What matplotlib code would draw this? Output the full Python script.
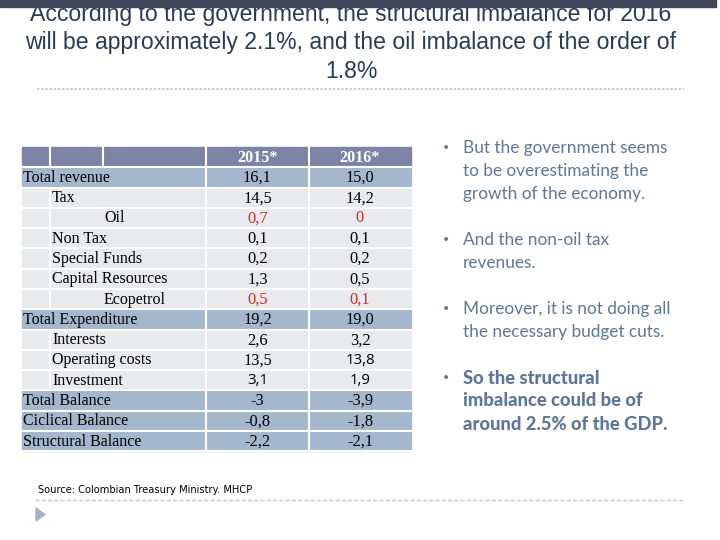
import matplotlib.pyplot as plt
from matplotlib.patches import Rectangle, Polygon

# === Data ===
row_labels = ["Total revenue", "Tax", "Oil", "Non Tax", "Special Funds",
              "Capital Resources", "Ecopetrol", "Total Expenditure", "Interests",
              "Operating costs", "Investment", "Total Balance", "Ciclical Balance",
              "Structural Balance"]
row_level = [0, 1, 2, 1, 1, 1, 2, 0, 1, 1, 1, 0, 0, 0]
col_headers = ["2015*", "2016*"]
vals_2015 = ["16,1", "14,5", "0,7", "0,1", "0,2", "1,3", "0,5", "19,2", "2,6",
             "13,5", "3,1", "-3", "-0,8", "-2,2"]
vals_2016 = ["15,0", "14,2", "0", "0,1", "0,2", "0,5", "0,1", "19,0", "3,2",
             "13,8", "1,9", "-3,9", "-1,8", "-2,1"]
red_rows = ["Oil", "Ecopetrol"]
sans_cells = [("Investment", 0), ("Investment", 1), ("Operating costs", 1)]

title_lines = ["According to the government, the structural imbalance for 2016",
               "will be approximately 2.1%, and the oil imbalance of the order of",
               "1.8%"]
bullets = [
    ["But the government seems", "to be overestimating the", "growth of the economy."],
    ["And the non-oil tax", "revenues."],
    ["Moreover, it is not doing all", "the necessary budget cuts."],
    ["So the structural", "imbalance could be of", "around 2.5% of the GDP."],
]
bullet_bold = [False, False, False, True]
source = "Source: Colombian Treasury Ministry. MHCP"

# === Style ===
HEADER_C = "#7c84a6"
TOTAL_C = "#a4b7cc"
LIGHT_C = "#e8eaee"
RED = "#d42a22"
TEXT_C = "#2b3a55"
BULLET_C = "#5d7896"

fig = plt.figure(figsize=(7.2, 5.4), dpi=100)
ax = fig.add_axes([0, 0, 1, 1])
ax.set_xlim(0, 720)
ax.set_ylim(540, 0)
ax.axis("off")

# title (drawn first so the top bar covers its upper edge)
for k, ln in enumerate(title_lines):
    ax.text(351, 15 + 28 * k, ln, ha="center", va="center", fontsize=16.6,
            family="Liberation Sans", color=TEXT_C)
ax.add_patch(Rectangle((0, 0), 716, 7, color="#40475a", zorder=5))
ax.plot([37, 684], [89, 89], color="#c8c8c8", lw=1.2, ls=(0, (1.5, 1)))

# table
x_edges = [22, 50, 103, 206, 309, 411]
top, rh = 147, 20.28
ax.add_patch(Rectangle((x_edges[0], top), x_edges[-1] - x_edges[0], rh,
                       color=HEADER_C))
for xe in x_edges[1:-1]:
    ax.plot([xe, xe], [top, top + rh], color="white", lw=1.5)
for j, h in enumerate(col_headers):
    ax.text((x_edges[3 + j] + x_edges[4 + j]) / 2, top + rh / 2 + 0.5, h,
            ha="center", va="center", fontsize=11.6, family="Liberation Serif",
            weight="bold", color="white")

for i, lab in enumerate(row_labels):
    y0 = top + rh * (i + 1)
    lev = row_level[i]
    fc = TOTAL_C if lev == 0 else LIGHT_C
    ax.add_patch(Rectangle((x_edges[0], y0), x_edges[-1] - x_edges[0], rh,
                           color=fc))
    ax.plot([x_edges[0], x_edges[-1]], [y0, y0], color="white", lw=1.5)
    vlines = [206, 309]
    if lev >= 1:
        vlines.append(50)
    for xe in vlines:
        ax.plot([xe, xe], [y0, y0 + rh], color="white", lw=1.5)
    lx = [23, 52, 104][lev]
    ax.text(lx, y0 + rh / 2 + 0.5, lab, ha="left", va="center", fontsize=11.5,
            family="Liberation Serif", color="black")
    for j, v in enumerate([vals_2015[i], vals_2016[i]]):
        color = RED if lab in red_rows else "black"
        cx = (x_edges[3 + j] + x_edges[4 + j]) / 2
        if (lab, j) in sans_cells:
            ax.text(cx, y0 + rh / 2 + 0.5, v, ha="center", va="center",
                    fontsize=10.8, family="Open Sans", color="black")
        else:
            ax.text(cx, y0 + rh / 2 + 0.5, v, ha="center", va="center",
                    fontsize=11.8, family="Liberation Serif", color=color)
ax.plot([x_edges[0], x_edges[-1]], [top + rh * 15, top + rh * 15],
        color="white", lw=1.5)

# bullets
y = 148
for lines, bold in zip(bullets, bullet_bold):
    ax.text(446, y, "\u2022", ha="center", va="center", fontsize=10,
            color="#6a7a90")
    for ln in lines:
        ax.text(463, y, ln, ha="left", va="center",
                fontsize=13.2 if bold else 12.4,
                family="Lato", weight="black" if bold else "normal",
                color=BULLET_C)
        y += 23
    y += 23

# source + footer
ax.text(38, 490, source, ha="left", va="center", fontsize=7.1,
        family="DejaVu Sans", color="black")
ax.plot([35, 685], [500, 500], color="#c8c8c8", lw=1.0, ls=(0, (3, 1.5)))
ax.add_patch(Polygon([[36, 508], [36, 521], [45, 514.5]], closed=True,
                     color="#a5b3c6"))

fig.savefig("out.png", dpi=100)
